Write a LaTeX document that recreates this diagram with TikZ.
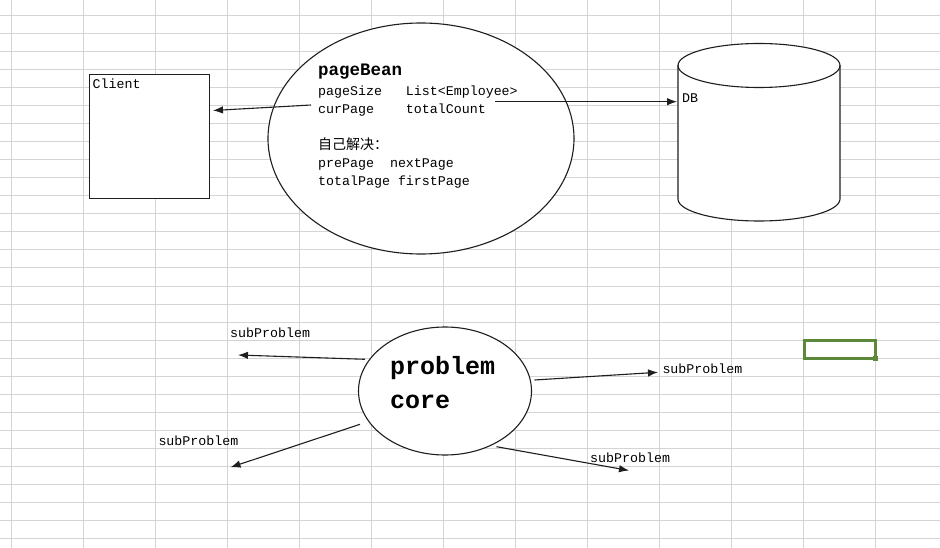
\documentclass[tikz,border=0pt]{standalone}
\usepackage{fontspec}
\setmonofont{Liberation Mono}
\newfontfamily\cjk{Noto Sans CJK SC}
\usetikzlibrary{arrows.meta,shapes.geometric}
\definecolor{gridc}{RGB}{212,212,212}
\definecolor{inkc}{RGB}{30,30,30}
\definecolor{selc}{RGB}{92,136,58}
\begin{document}
\begin{tikzpicture}[x=1pt,y=-1pt,
  ink/.style={draw=inkc, line width=1.1pt},
  shapebox/.style={ink, fill=white, inner sep=0pt, outer sep=0pt},
  arr/.style={draw=inkc, line width=1.1pt, -{Latex[length=10pt,width=7.5pt]}},
  txt/.style={inner sep=0pt, anchor=base west, text=black, font=\ttfamily\fontsize{13.3}{16}\selectfont},
  bigtxt/.style={inner sep=0pt, anchor=base west, text=black, font=\ttfamily\bfseries\fontsize{25}{30}\selectfont},
  titletxt/.style={inner sep=0pt, anchor=base west, text=black, font=\ttfamily\bfseries\fontsize{17.5}{20}\selectfont},
  cjktxt/.style={inner sep=0pt, anchor=base west, text=black, font=\cjk\fontsize{14}{16}\selectfont}]
\useasboundingbox (0,0) rectangle (940,548);
\fill[white] (0,0) rectangle (940,548);
% spreadsheet grid
\foreach \k in {0,...,12} \draw[gridc, line width=1pt] (11.7+72*\k,0) -- (11.7+72*\k,548);
\foreach \k in {0,...,29} \draw[gridc, line width=1pt] (0,16+18*\k) -- (940,16+18*\k);
% selected cell
\node (sel) [draw=selc, line width=3pt, minimum width=71.5pt, minimum height=18pt, inner sep=0pt, outer sep=0pt, anchor=north west] at (804,340.5) {};
\node (handle) [fill=selc, minimum size=5pt, inner sep=0pt] at (sel.south east) {};
% Client box
\node (client) [shapebox, minimum width=120pt, minimum height=124pt, anchor=north west] at (89.5,74.2) {};
\node (clientlbl) [txt] at (92.5,88.5) {Client};
% pageBean ellipse
\node (bean) [shapebox, ellipse, minimum width=306pt, minimum height=231pt] at (421,138.5) {};
% DB cylinder
\fill[white] (678,65.5) -- (678,199) arc[start angle=180, end angle=0, x radius=81, y radius=22] -- (840,65.5) -- cycle;
\fill[white] (759,65.5) ellipse[x radius=81, y radius=22];
\draw[ink] (759,65.5) ellipse[x radius=81, y radius=22];
\draw[ink] (678,65.5) -- (678,199) arc[start angle=180, end angle=0, x radius=81, y radius=22] -- (840,65.5);
\node (db) [txt] at (682,102.7) {DB};
% problem core ellipse
\node (core) [shapebox, ellipse, minimum width=173pt, minimum height=128pt] at (445,391) {};
% connector end points
\coordinate (b2c) at (311,105);
\coordinate (c2) at (213,110.5);
\coordinate (b2d) at (495,101.7);
\coordinate (d2) at (677,101.7);
\coordinate (k1) at (365,359.3);
\coordinate (s1) at (238,355);
\coordinate (k2) at (360,424.3);
\coordinate (s2) at (230.5,467.3);
\coordinate (k3) at (534.5,380);
\coordinate (s3) at (658,372.3);
\coordinate (k4) at (496.5,446.7);
\coordinate (s4) at (629,470.5);
% connectors
\draw[arr] (b2c) -- (c2);
\draw[arr] (b2d) -- (d2);
\draw[arr] (k1) -- (s1);
\draw[arr] (k2) -- (s2);
\draw[arr] (k3) -- (s3);
\draw[arr] (k4) -- (s4);
% pageBean texts
\node (t0) [titletxt] at (318,76) {pageBean};
\node (t1) [txt] at (318,96) {pageSize\ \ \ List<Employee>};
\node (t2) [txt] at (318,114) {curPage\ \ \ \ totalCount};
\node (t3) [cjktxt] at (318,150) {自己解决：};
\node (t4) [txt] at (318,168) {prePage\ \ nextPage};
\node (t5) [txt] at (318,186) {totalPage firstPage};
% problem core texts
\node (p1) [bigtxt] at (390,374) {problem};
\node (p2) [bigtxt] at (390,408.3) {core};
% subProblem labels
\node (l1) [txt] at (230,337.3) {subProblem};
\node (l2) [txt] at (158.3,445) {subProblem};
\node (l3) [txt] at (662.3,373.3) {subProblem};
\node (l4) [txt] at (590,462.7) {subProblem};
\end{tikzpicture}
\end{document}
